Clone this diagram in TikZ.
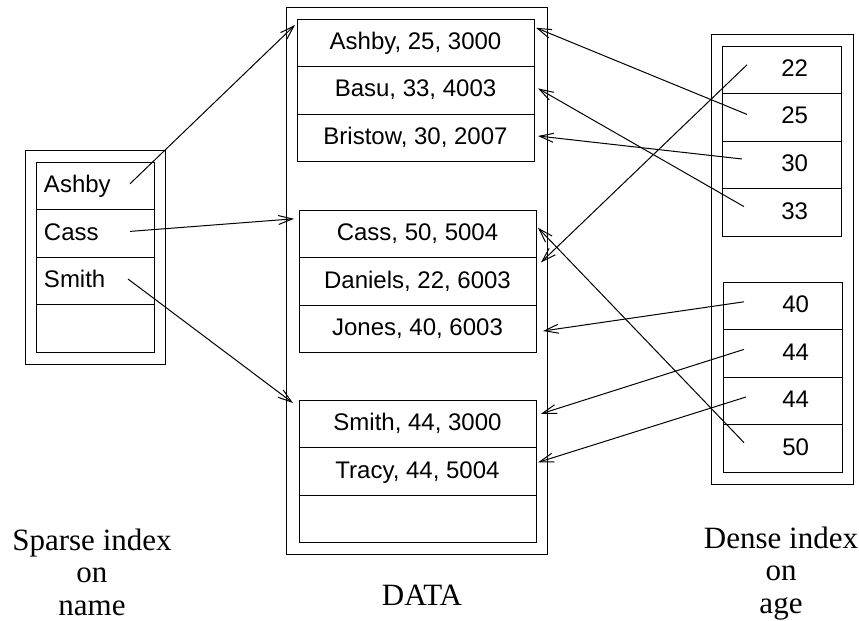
\documentclass[tikz,border=0pt]{standalone}
\usepackage{fontspec}
\setmainfont{Liberation Serif}
\setsansfont{Liberation Sans}
\usetikzlibrary{arrows.meta,positioning,calc,fit}
\tikzset{
  cell/.style={draw, line width=0.5pt, inner sep=0pt, outer sep=0pt,
               minimum height=23.8pt, font=\sffamily\fontsize{12}{14}\selectfont,
               text height=8.6pt, text depth=2pt},
  scell/.style={cell, text width=51pt, inner xsep=4pt, align=left},
  rcell/.style={cell, minimum width=118.5pt},
  dcell/.style={cell, text width=26.5pt, inner xsep=16.5pt, align=right},
  outerbox/.style={draw, line width=0.5pt, inner xsep=5.5pt, inner ysep=6pt},
  ar/.style={-{Straight Barb[length=7pt,width=4.5pt]}, line width=0.5pt},
  lbl/.style={font=\fontsize{15.5}{16.25}\selectfont, align=center, inner sep=0pt},
}

\begin{document}
\begin{tikzpicture}[x=0.5pt, y=-0.5pt, node distance=0pt]
\useasboundingbox (0,0) rectangle (859,621);

% sparse index on name
\node[scell, anchor=north west] (sAshby) at (36,162) {Ashby};
\node[scell, below=of sAshby] (sCass) {Cass};
\node[scell, below=of sCass] (sSmith) {Smith};
\node[scell, below=of sSmith] (sBlank) {};

% data file, three blocks
\node[rcell, anchor=north west] (ashby) at (297,19) {Ashby, 25, 3000};
\node[rcell, below=of ashby] (basu) {Basu, 33, 4003};
\node[rcell, below=of basu] (bristow) {Bristow, 30, 2007};
\node[rcell, anchor=north west] (cass) at (299,210) {Cass, 50, 5004};
\node[rcell, below=of cass] (daniels) {Daniels, 22, 6003};
\node[rcell, below=of daniels] (jones) {Jones, 40, 6003};
\node[rcell, anchor=north west] (smith) at (299,400) {Smith, 44, 3000};
\node[rcell, below=of smith] (tracy) {Tracy, 44, 5004};
\node[rcell, below=of tracy] (dBlank) {};

% dense index on age
\node[dcell, anchor=north west] (k22) at (722,46) {22};
\node[dcell, below=of k22] (k25) {25};
\node[dcell, below=of k25] (k30) {30};
\node[dcell, below=of k30] (k33) {33};
\node[dcell, anchor=north west] (k40) at (723,282) {40};
\node[dcell, below=of k40] (k44a) {44};
\node[dcell, below=of k44a] (k44b) {44};
\node[dcell, below=of k44b] (k50) {50};

% enclosing frames
\node[outerbox, fit=(sAshby)(sBlank)] (sparse) {};
\node[outerbox, fit=(ashby)(dBlank)] (data) {};
\node[outerbox, fit=(k22)(k50)] (dense) {};

\node[lbl, anchor=base] (lSparse) at (92,615) {Sparse index\\on\\name};
\node[lbl, anchor=base] (lData) at (422,605) {DATA};
\node[lbl, anchor=base] (lDense) at (781,613) {Dense index\\on\\age};

% sparse index -> first record of each block
\draw[ar] ($(sAshby.east)+(-24,-2)$) -- ($(ashby.north west)+(-2,6)$);
\draw[ar] ($(sCass.east)+(-24,-2)$) -- ($(cass.west)+(-5,-15)$);
\draw[ar] ($(sSmith.east)+(-26,-2)$) -- ($(smith.north west)+(-6,3)$);

% dense index -> every record
\draw[ar] ($(k22.west)+(25,-5)$) -- ($(daniels.east)+(5,-19)$);
\draw[ar] ($(k25.west)+(25,-3)$) -- ($(ashby.east)+(2,-15)$);
\draw[ar] ($(k30.west)+(20,-6)$) -- ($(bristow.east)+(4,-2)$);
\draw[ar] ($(k33.west)+(22,-6)$) -- ($(basu.east)+(4,-2)$);
\draw[ar] ($(k40.west)+(21,-4)$) -- ($(jones.east)+(7,2)$);
\draw[ar] ($(k44a.west)+(21,-4)$) -- ($(smith.east)+(5,-10)$);
\draw[ar] ($(k44b.west)+(23,-4)$) -- ($(tracy.east)+(2,-9)$);
\draw[ar] ($(k50.west)+(21,-6)$) -- ($(cass.east)+(2,-6)$);
\end{tikzpicture}
\end{document}
